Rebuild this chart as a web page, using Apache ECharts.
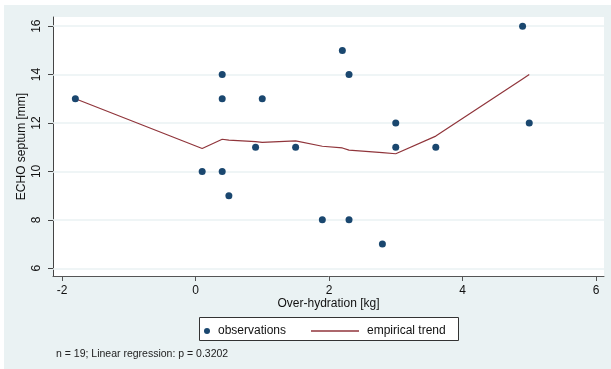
<!DOCTYPE html>
<html>
<head>
<meta charset="utf-8">
<script src="https://cdn.jsdelivr.net/npm/echarts@6/dist/echarts.min.js"></script>
<style>
  html, body { margin: 0; padding: 0; background: #fff; }
  #chart { width: 611px; height: 369px; }
</style>
</head>
<body>
<div id="chart"></div>
<script>
  // observations
  const obsX = [-1.8, 0.1, 0.4, 0.4, 0.4, 0.5, 0.9, 1.0, 1.5, 1.9, 2.2, 2.3, 2.3, 2.8, 3.0, 3.0, 3.6, 4.9, 5.0]
  const obsY = [13, 10, 14, 13, 10, 9, 11, 13, 11, 8, 15, 14, 8, 7, 12, 11, 11, 16, 12]
  // empirical trend (lowess-like)
  const trendX = [-1.8, 0.1, 0.4, 0.5, 0.9, 1.0, 1.5, 1.9, 2.2, 2.3, 2.8, 3.0, 3.6, 4.9, 5.0]
  const trendY = [13.0, 10.95, 11.33, 11.29, 11.23, 11.2, 11.26, 11.04, 10.97, 10.88, 10.78, 10.73, 11.46, 13.82, 14.0]
  const xTicks = [-2, 0, 2, 4, 6]
  const yTicks = [6, 8, 10, 12, 14, 16]

  const font = 'Liberation Sans, Arial, sans-serif'
  const bg = '#eaf2f3'

  const chart = echarts.init(document.getElementById('chart'))
  chart.setOption({
    backgroundColor: '#fff',
    animation: false,
    textStyle: { fontFamily: font },
    graphic: [
      { type: 'rect', z: -100, shape: { x: 4, y: 5, width: 607, height: 364 }, style: { fill: bg } },
      { type: 'rect', z: 100, shape: { x: 199.5, y: 317.5, width: 259, height: 23 },
        style: { fill: '#fff', stroke: '#333', lineWidth: 1 } },
      { type: 'text', left: 56, top: 349, z: 100,
        style: { text: 'n = 19; Linear regression: p = 0.3202', fontSize: 10.5, fontFamily: font, fill: '#222' } }
    ],
    grid: {
      left: 53, right: 7, top: 17, bottom: 93,
      show: true, backgroundColor: '#fff', borderWidth: 0
    },
    legend: [
      {
        data: [{ name: 'observations', icon: 'circle' }],
        left: 204, top: 325, padding: 0, itemWidth: 6, itemHeight: 6, z: 200,
        textStyle: { fontSize: 12, fontFamily: font, color: '#111', padding: [0, 0, 0, 3] }
      },
      {
        data: [{ name: 'empirical trend', icon: 'rect' }],
        left: 311, top: 325, padding: 0, itemWidth: 48, itemHeight: 1.3, z: 200,
        textStyle: { fontSize: 12, fontFamily: font, color: '#111', padding: [0, 0, 0, 3] }
      }
    ],
    xAxis: {
      type: 'value',
      min: -2.135, max: 6.12,
      name: 'Over-hydration [kg]',
      nameLocation: 'middle',
      nameGap: 22,
      nameMoveOverlap: false,
      nameTextStyle: { fontSize: 12, color: '#111' },
      axisLine: { onZero: false, lineStyle: { color: '#555', width: 1 } },
      axisTick: { show: true, length: 5, customValues: xTicks, lineStyle: { color: '#555' } },
      axisLabel: { customValues: xTicks, fontSize: 12, color: '#111', margin: 9 },
      splitLine: { show: false }
    },
    yAxis: {
      type: 'value',
      min: 5.68, max: 16.38,
      name: 'ECHO septum [mm]',
      nameLocation: 'middle',
      nameGap: 25,
      nameMoveOverlap: false,
      nameTextStyle: { fontSize: 12, color: '#111' },
      axisLine: { show: true, onZero: false, lineStyle: { color: '#444', width: 1 } },
      axisTick: { show: true, length: 5, customValues: yTicks, lineStyle: { color: '#444' } },
      axisLabel: { customValues: yTicks, rotate: 90, fontSize: 12, color: '#111', margin: 10 },
      splitLine: { show: false }
    },
    series: [
      {
        name: 'observations',
        type: 'scatter',
        symbolSize: 7,
        itemStyle: { color: '#1a476f', opacity: 1 },
        data: obsX.map((x, i) => [x, obsY[i]]),
        markLine: {
          silent: true,
          symbol: 'none',
          label: { show: false },
          lineStyle: { color: bg, width: 1.5, type: 'solid' },
          z: 1,
          data: yTicks.map(v => ({ yAxis: v }))
        },
        z: 3
      },
      {
        name: 'empirical trend',
        type: 'line',
        symbol: 'none',
        showSymbol: false,
        lineStyle: { color: '#90353b', width: 1.2 },
        itemStyle: { color: '#90353b' },
        data: trendX.map((x, i) => [x, trendY[i]]),
        z: 2
      }
    ]
  })
</script>
</body>
</html>
